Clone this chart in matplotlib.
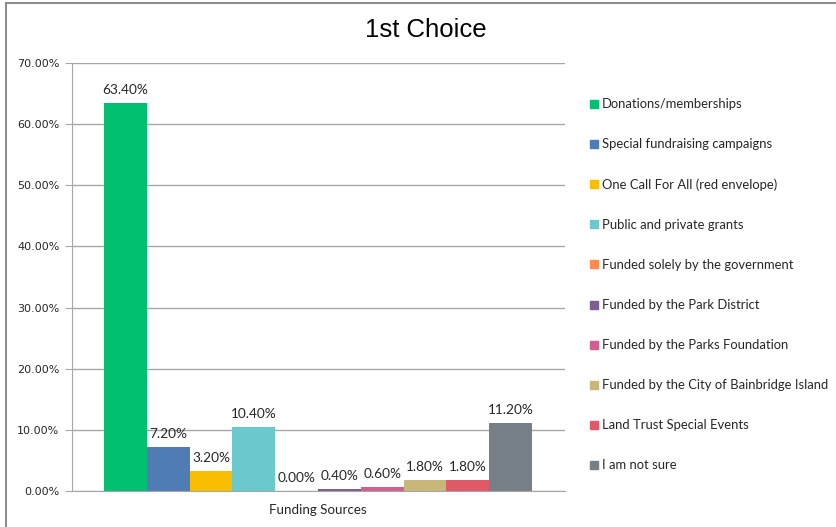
import matplotlib
matplotlib.use("Agg")
import matplotlib.pyplot as plt
from matplotlib.lines import Line2D
import numpy as np

# categories and values (percent)
sources = [
    "Donations/memberships",
    "Special fundraising campaigns",
    "One Call For All (red envelope)",
    "Public and private grants",
    "Funded solely by the government",
    "Funded by the Park District",
    "Funded by the Parks Foundation",
    "Funded by the City of Bainbridge Island",
    "Land Trust Special Events",
    "I am not sure",
]
values = [63.40, 7.20, 3.20, 10.40, 0.00, 0.40, 0.60, 1.80, 1.80, 11.20]
colors = ["#00BF6F", "#507CB6", "#F9BE00", "#6BC8CD", "#FF8B4F",
          "#7D5E90", "#D25F90", "#C7B879", "#E05966", "#767F86"]
yticks = [0, 10, 20, 30, 40, 50, 60, 70]

fig = plt.figure(figsize=(8.37, 5.27), dpi=100)
ax = fig.add_axes([0.086, 0.0683, 0.589, 0.812])

x = np.arange(len(values))
bars = ax.bar(x, values, width=1.0, color=colors, label=sources)

# value labels above each bar
ax.bar_label(bars, labels=[f"{v:.2f}%" for v in values], padding=5,
             fontsize=9.8, family="Lato", color="#262626")

ax.set_xlim(-1.25, 10.27)
ax.set_ylim(0, 70)
ax.set_yticks(yticks)
ax.set_yticklabels([f"{t:.2f}%" for t in yticks], fontsize=8, color="#262626")
ax.set_xticks([4.5])
ax.set_xticklabels(["Funding Sources"], fontsize=9.6, family="Lato", color="#262626")
ax.tick_params(axis="x", length=0, pad=9)
ax.tick_params(axis="y", length=5, color="#A6A6A6", pad=4)

ax.yaxis.grid(True, color="#A6A6A6", linewidth=1)
ax.set_axisbelow(True)
for side in ["top", "right"]:
    ax.spines[side].set_visible(False)
ax.spines["left"].set_color("#A6A6A6")
ax.spines["bottom"].set_color("#A6A6A6")

# title centred on the whole chart area
fig.text(0.509, 0.943, "1st Choice", fontsize=18.5, family="Liberation Sans",
         ha="center", va="center")

handles = [Line2D([0], [0], marker="s", linestyle="none", markersize=6,
                  markerfacecolor=c, markeredgecolor=c) for c in colors]
fig.legend(handles, sources, loc="upper left", bbox_to_anchor=(0.691, 0.836),
           frameon=False, handlelength=0.6, handletextpad=0.3,
           labelspacing=2.15, prop={"family": "Lato", "size": 9.4},
           labelcolor="#262626")

# outer frame (top and left edges)
fig.add_artist(Line2D([0.007, 1.0], [0.994, 0.994], color="#8C8C8C", lw=1.5))
fig.add_artist(Line2D([0.007, 0.007], [0.0, 0.994], color="#8C8C8C", lw=1.5))

fig.savefig("out.png", dpi=100)
